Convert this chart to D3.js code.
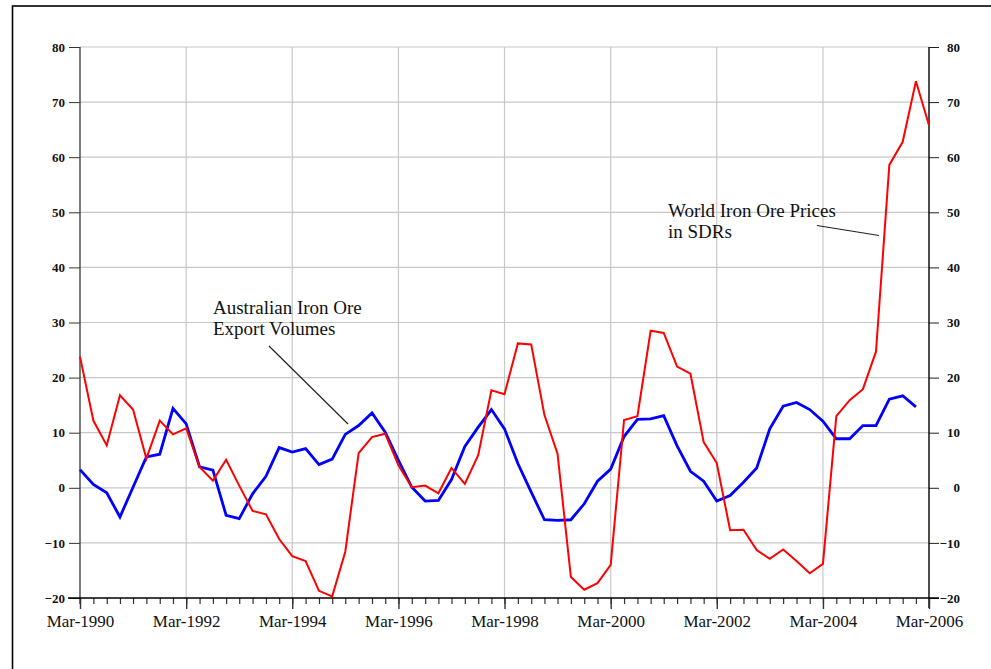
<!DOCTYPE html>
<html>
<head>
<meta charset="utf-8">
<script src="https://cdn.jsdelivr.net/npm/d3@7"></script>
<style>
  html, body { margin: 0; padding: 0; background: #fff; }
  svg { display: block; }
  text { font-family: "Liberation Serif", "Times New Roman", serif; fill: #111; }
</style>
</head>
<body>
<svg id="chart" width="991" height="669"></svg>
<script>
// ---- data (quarterly, year-ended % change) ----
const startQuarter = "1990-03";   // first observation (March quarter 1990)
const pricesSDR = [ // World Iron Ore Prices in SDRs
  23.8, 12.2, 7.7, 16.8, 14.2, 5.3, 12.2, 9.7, 10.8, 3.8,
  1.3, 5.1, 0.4, -4.2, -4.8, -9.3, -12.4, -13.3, -18.7, -19.7,
  -11.6, 6.3, 9.2, 9.8, 4.1, 0.1, 0.4, -1.0, 3.6, 0.7,
  5.9, 17.7, 17.0, 26.2, 26.0, 13.2, 6.2, -16.2, -18.5, -17.3,
  -14.0, 12.3, 13.0, 28.5, 28.1, 22.0, 20.7, 8.3, 4.5, -7.7,
  -7.6, -11.3, -12.9, -11.2, -13.3, -15.5, -13.8, 13.0, 15.9, 17.9,
  24.7, 58.6, 62.8, 73.8, 65.8
];
const exportVolumes = [ // Australian Iron Ore Export Volumes
  3.3, 0.6, -0.9, -5.3, 0.1, 5.6, 6.1, 14.4, 11.6, 3.8,
  3.2, -5.0, -5.6, -1.1, 2.1, 7.3, 6.5, 7.1, 4.2, 5.2,
  9.7, 11.3, 13.6, 10.1, 5.0, 0.1, -2.4, -2.3, 1.5, 7.5,
  11.0, 14.2, 10.7, 4.4, -0.8, -5.8, -5.9, -5.8, -2.9, 1.2,
  3.4, 9.3, 12.4, 12.5, 13.1, 7.6, 3.0, 1.2, -2.4, -1.4,
  1.0, 3.6, 10.7, 14.8, 15.5, 14.2, 12.1, 8.9, 8.9, 11.3,
  11.3, 16.1, 16.7, 14.7
];
const yTicks = [-20, -10, 0, 10, 20, 30, 40, 50, 60, 70, 80];
const xTickLabels = ["Mar-1990", "Mar-1992", "Mar-1994", "Mar-1996", "Mar-1998", "Mar-2000", "Mar-2002", "Mar-2004", "Mar-2006"];
const priceLabel = ["World Iron Ore Prices", "in SDRs"];
const volumeLabel = ["Australian Iron Ore", "Export Volumes"];

// ---- layout ----
const svg = d3.select("#chart");
const L = 80, R = 929, T = 47, B = 598;

const parseQ = d3.timeParse("%Y-%m");
const fmt = d3.timeFormat("%b-%Y");
const parseLbl = d3.timeParse("%b-%Y");
const d0 = parseQ(startQuarter);
const dateAt = i => d3.timeMonth.offset(d0, 3 * i);

const x = d3.scaleTime().domain([parseLbl(xTickLabels[0]), parseLbl(xTickLabels[xTickLabels.length - 1])]).range([L, R]);
const y = d3.scaleLinear().domain([-20, 80]).range([B, T]);

// outer frame
svg.append("rect").attr("x", 12.5).attr("y", 6).attr("width", 1000).attr("height", 700)
  .attr("fill", "none").attr("stroke", "#000").attr("stroke-width", 1.6);

const majorDates = xTickLabels.map(parseLbl);
const quarterDates = d3.range(0, 65).map(dateAt);

// grid
const g = svg.append("g");
g.selectAll("line.hg").data(yTicks.filter(v => v > -20)).join("line")
  .attr("x1", L).attr("x2", R).attr("y1", d => y(d)).attr("y2", d => y(d))
  .attr("stroke", "#c8c8c8").attr("stroke-width", 1.2);
g.selectAll("line.vg").data(majorDates.slice(1, -1)).join("line")
  .attr("x1", d => x(d)).attr("x2", d => x(d)).attr("y1", T).attr("y2", B)
  .attr("stroke", "#c8c8c8").attr("stroke-width", 1.2);

// left axis
const leftAxis = d3.axisLeft(y).tickValues(yTicks).tickSize(11).tickPadding(4).tickFormat(d3.format("d"));
const gl = svg.append("g").attr("transform", `translate(${L},0)`).call(leftAxis);
gl.select(".domain").remove();
gl.selectAll("line").attr("stroke", "#333");
gl.selectAll("text").style("font-size", "13px").style("font-weight", "bold").attr("fill", "#333").style("font-family", '"Liberation Serif", serif');
svg.append("line").attr("x1", L).attr("x2", L).attr("y1", T).attr("y2", B + 6).attr("stroke", "#444").attr("stroke-width", 1.4);

// right axis
const rightAxis = d3.axisRight(y).tickValues(yTicks).tickSize(10).tickPadding(4).tickFormat(d3.format("d"));
const gr = svg.append("g").attr("transform", `translate(${R},0)`).call(rightAxis);
gr.select(".domain").remove();
gr.selectAll("line").attr("stroke", "#222");
gr.selectAll("text").style("font-size", "13px").style("font-weight", "bold").attr("fill", "#333").attr("text-anchor", "end").attr("x", 31)
  .style("font-family", '"Liberation Serif", serif');
svg.append("line").attr("x1", R).attr("x2", R).attr("y1", T).attr("y2", B + 10).attr("stroke", "#000").attr("stroke-width", 1.4);

// bottom axis: minor quarter ticks
const minorAxis = d3.axisBottom(x).tickValues(quarterDates).tickSize(6).tickFormat("");
const gm = svg.append("g").attr("transform", `translate(0,${B})`).call(minorAxis);
gm.select(".domain").remove();
gm.selectAll("line").attr("stroke", "#333").attr("stroke-width", 1.2);
// major ticks with labels
const majorAxis = d3.axisBottom(x).tickValues(majorDates).tickSize(11).tickPadding(6).tickFormat(fmt);
const gM = svg.append("g").attr("transform", `translate(0,${B})`).call(majorAxis);
gM.select(".domain").remove();
gM.selectAll("line").attr("stroke", "#333").attr("stroke-width", 1.4);
gM.selectAll("text").style("font-size", "17px").attr("fill", "#111").style("font-family", '"Liberation Serif", serif');
svg.append("line").attr("x1", L - 12).attr("x2", R + 10).attr("y1", B).attr("y2", B).attr("stroke", "#000").attr("stroke-width", 1.4);

// series
const line = d3.line().x((d, i) => x(dateAt(i))).y(d => y(d));
svg.append("path").datum(exportVolumes).attr("d", line)
  .attr("fill", "none").attr("stroke", "#0000ff").attr("stroke-width", 2.8).attr("stroke-linejoin", "miter");
svg.append("path").datum(pricesSDR).attr("d", line)
  .attr("fill", "none").attr("stroke", "#ff0000").attr("stroke-width", 2).attr("stroke-linejoin", "miter");

// annotations
function label(lines, x0, y0) {
  const t = svg.append("text").attr("x", x0).attr("y", y0).style("font-size", "19px").attr("fill", "#111");
  lines.forEach((s, i) => t.append("tspan").attr("x", x0).attr("dy", i ? 21 : 0).text(s));
}
label(priceLabel, 668, 217);
label(volumeLabel, 213, 314);
svg.append("line").attr("x1", 817).attr("y1", 225.5).attr("x2", 879).attr("y2", 235.5).attr("stroke", "#222").attr("stroke-width", 1.2);
svg.append("line").attr("x1", 269).attr("y1", 346).attr("x2", 348).attr("y2", 424).attr("stroke", "#222").attr("stroke-width", 1.2);
</script>
</body>
</html>
